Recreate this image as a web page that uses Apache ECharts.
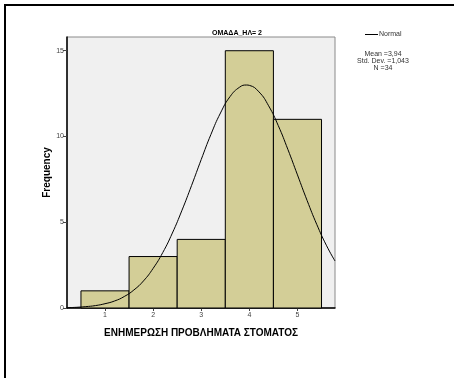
<!DOCTYPE html>
<html><head><meta charset="utf-8">
<script src="https://cdn.jsdelivr.net/npm/echarts@6/dist/echarts.min.js"></script>
<style>html,body{margin:0;padding:0;background:#fff;overflow:hidden}#c{width:454px;height:378px}</style>
</head><body><div id="c"></div>
<script>
const categories = [1, 2, 3, 4, 5];
const frequencies = [1, 3, 4, 15, 11];
const normalX = [0.21,0.4,0.6,0.8,1.0,1.2,1.4,1.6,1.8,2.0,2.2,2.4,2.6,2.8,3.0,3.2,3.4,3.6,3.8,3.94,4.0,4.2,4.4,4.6,4.8,5.0,5.2,5.4,5.6,5.78];
const normalY = [0.02,0.04,0.08,0.14,0.25,0.41,0.67,1.05,1.58,2.31,3.23,4.37,5.70,7.15,8.66,10.11,11.37,12.33,12.88,13.0,12.98,12.60,11.79,10.64,9.25,7.76,6.27,4.88,3.66,2.74];
const xTicks = [1, 2, 3, 4, 5];
const yTicks = [0, 5, 10, 15];
const statLines = ['Mean =3,94', 'Std. Dev. =1,043', 'N =34'];

const chart = echarts.init(document.getElementById('c'));
const font = '"Liberation Sans", Arial, sans-serif';
chart.setOption({
  animation: false,
  textStyle: { fontFamily: font },
  title: { text: 'ΟΜΑΔΑ_ΗΛ= 2', left: 232, top: 25, textAlign: 'center',
    textStyle: { fontSize: 7, fontWeight: 'bold', color: '#000', fontFamily: font } },
  legend: { left: 360, top: 26, itemWidth: 13, itemHeight: 1, itemGap: 2,
    data: [{ name: 'Normal', icon: 'rect' }],
    textStyle: { fontSize: 7, color: '#333', fontFamily: font, padding: [0,0,0,-4] } },
  grid: { left: 67, right: 119, top: 37, bottom: 70, show: true,
    backgroundColor: '#f0f0f0', borderColor: '#8a8a8a', borderWidth: 1 },
  xAxis: { type: 'value', min: 0.21, max: 5.78,
    name: 'ΕΝΗΜΕΡΩΣΗ ΠΡΟΒΛΗΜΑΤΑ ΣΤΟΜΑΤΟΣ', nameLocation: 'middle', nameGap: 20,
    nameMoveOverlap: false,
    nameTextStyle: { fontSize: 10, fontWeight: 'bold', color: '#000', fontFamily: font,
      verticalAlign: 'top' },
    axisLine: { lineStyle: { color: '#000', width: 1.5 } },
    axisTick: { show: true, length: 3, customValues: xTicks, lineStyle: { color: '#444' } },
    axisLabel: { customValues: xTicks, fontSize: 7, color: '#444', margin: 4 },
    splitLine: { show: false } },
  yAxis: { type: 'value', min: 0, max: 15.8,
    name: 'Frequency', nameLocation: 'middle', nameGap: 15, nameRotate: 90,
    nameMoveOverlap: false,
    nameTextStyle: { fontSize: 10, fontWeight: 'bold', color: '#000', fontFamily: font },
    axisLine: { show: true, lineStyle: { color: '#000', width: 1.5 } },
    axisTick: { show: true, length: 4, customValues: yTicks, lineStyle: { color: '#444' } },
    axisLabel: { customValues: yTicks, fontSize: 7, color: '#444', margin: 3 },
    splitLine: { show: false } },
  series: [
    { type: 'custom', name: 'Histogram',
      data: categories.map((c, i) => [c, frequencies[i]]),
      renderItem: function (params, api) {
        const x = api.value(0), y = api.value(1);
        const p0 = api.coord([x - 0.5, y]);
        const p1 = api.coord([x + 0.5, 0]);
        return { type: 'rect',
          shape: { x: p0[0], y: p0[1], width: p1[0] - p0[0], height: p1[1] - p0[1] },
          style: { fill: '#d3ce97', stroke: '#000', lineWidth: 1 } };
      }, z: 2 },
    { type: 'line', name: 'Normal', smooth: true, symbol: 'none',
      data: normalX.map((x, i) => [x, normalY[i]]),
      lineStyle: { color: '#000', width: 1 }, itemStyle: { color: '#000' }, z: 3 }
  ],
  graphic: [
    { type: 'line', shape: { x1: 5, y1: 5, x2: 5, y2: 378 }, style: { stroke: '#000', lineWidth: 2 } },
    { type: 'line', shape: { x1: 4, y1: 5, x2: 454, y2: 5 }, style: { stroke: '#000', lineWidth: 2 } },
    { type: 'text', x: 383, y: 51, style: { text: statLines.join('\n'),
      align: 'center', fontSize: 7, lineHeight: 7, fill: '#333', fontFamily: font } }
  ]
});
</script></body></html>
